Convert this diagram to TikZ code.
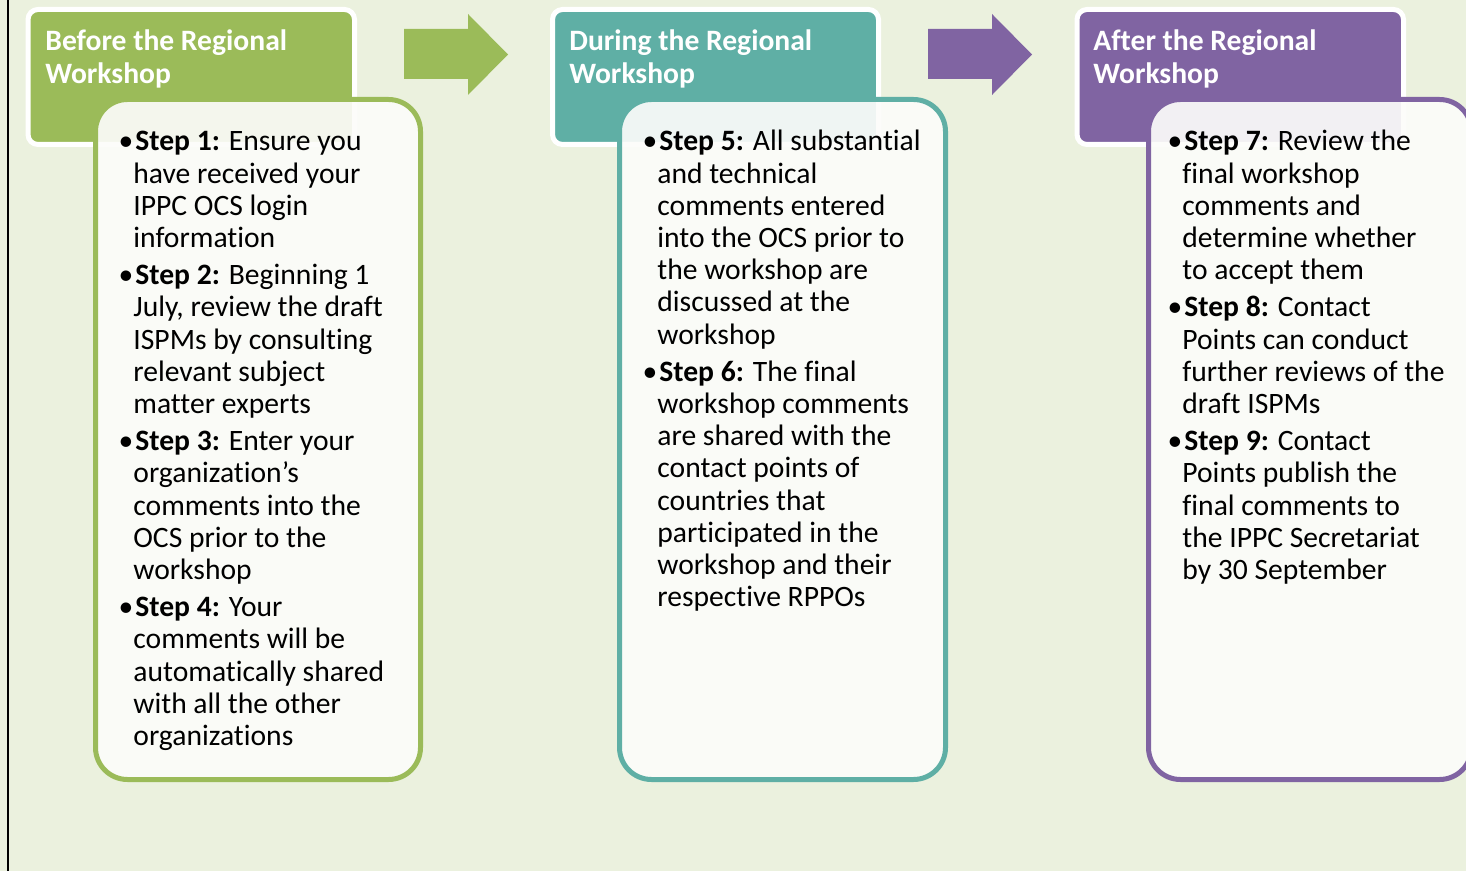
\documentclass[tikz,border=0pt]{standalone}
\usepackage{fontspec}
\setmainfont{Carlito}[Ligatures=NoCommon]

\definecolor{bgpale}{HTML}{EBF1DE}
\definecolor{leafgreen}{HTML}{9BBB59}
\definecolor{seateal}{HTML}{5FAFA5}
\definecolor{plum}{HTML}{8064A2}
\definecolor{paper}{HTML}{FCFCFA}

\newcommand{\stepfont}{\fontsize{14.8}{16.1}\selectfont}
\newcommand{\dotstep}[1]{\llap{\textbullet}\hspace{1pt}\textbf{Step #1:}}

\begin{document}
\begin{tikzpicture}[x=0.5pt,y=-0.5pt,
    headbox/.style={fill=#1,draw=white,line width=2.5pt,rounded corners=5pt},
    stepbox/.style={fill=paper,fill opacity=0.92,draw=#1,draw opacity=1,line width=2.5pt,rounded corners=16pt},
    headtext/.style={anchor=base west,inner sep=0pt,text=white,font=\stepfont\bfseries},
    steptext/.style={anchor=base west,inner sep=0pt,font=\stepfont}]
    \clip (0,0) rectangle (1466,871);
    \fill[bgpale] (0,0) rectangle (1466,871);
    \draw[line width=1pt] (8,0) -- (8,871);

    % header boxes
    \draw[headbox=leafgreen] (28,9.5) rectangle (354.5,144.5);
    \draw[headbox=seateal] (552.5,9.5) rectangle (878.5,144.5);
    \draw[headbox=plum] (1077,9.5) rectangle (1403.5,144.5);

    % arrows between the stages
    \fill[leafgreen] (404,29) -- (468,29) -- (468,14) -- (508,54.5) -- (468,95) -- (468,79) -- (404,79) -- cycle;
    \fill[plum] (928,29) -- (992,29) -- (992,14) -- (1032,54.5) -- (992,95) -- (992,79) -- (928,79) -- cycle;

    % step boxes
    \draw[stepbox=leafgreen] (95.5,99.5) rectangle (420.5,779.5);
    \draw[stepbox=seateal] (619.5,99.5) rectangle (945.5,779.5);
    \draw[stepbox=plum] (1148.5,99.5) rectangle (1471.5,779.5);

    \node[headtext] (before) at (45,51) {\begin{tabular}[t]{@{}l@{}}Before the Regional\\Workshop\end{tabular}};
    \node[headtext] (during) at (569,51) {\begin{tabular}[t]{@{}l@{}}During the Regional\\Workshop\end{tabular}};
    \node[headtext] (after) at (1093,51) {\begin{tabular}[t]{@{}l@{}}After the Regional\\Workshop\end{tabular}};

    \node[steptext] (stepsA) at (133,151) {\begin{tabular}[t]{@{}l@{}}
        \dotstep{1} Ensure you\\
        have received your\\
        IPPC OCS login\\
        information\\[2.5pt]
        \dotstep{2} Beginning 1\\
        July, review the draft\\
        ISPMs by consulting\\
        relevant subject\\
        matter experts\\[2.5pt]
        \dotstep{3} Enter your\\
        organization's\\
        comments into the\\
        OCS prior to the\\
        workshop\\[2.5pt]
        \dotstep{4} Your\\
        comments will be\\
        automatically shared\\
        with all the other\\
        organizations
    \end{tabular}};

    \node[steptext] (stepsB) at (657,151) {\begin{tabular}[t]{@{}l@{}}
        \dotstep{5} All substantial\\
        and technical\\
        comments entered\\
        into the OCS prior to\\
        the workshop are\\
        discussed at the\\
        workshop\\[2.5pt]
        \dotstep{6} The final\\
        workshop comments\\
        are shared with the\\
        contact points of\\
        countries that\\
        participated in the\\
        workshop and their\\
        respective RPPOs
    \end{tabular}};

    \node[steptext] (stepsC) at (1182,151) {\begin{tabular}[t]{@{}l@{}}
        \dotstep{7} Review the\\
        final workshop\\
        comments and\\
        determine whether\\
        to accept them\\[2.5pt]
        \dotstep{8} Contact\\
        Points can conduct\\
        further reviews of the\\
        draft ISPMs\\[2.5pt]
        \dotstep{9} Contact\\
        Points publish the\\
        final comments to\\
        the IPPC Secretariat\\
        by 30 September
    \end{tabular}};
\end{tikzpicture}
\end{document}
